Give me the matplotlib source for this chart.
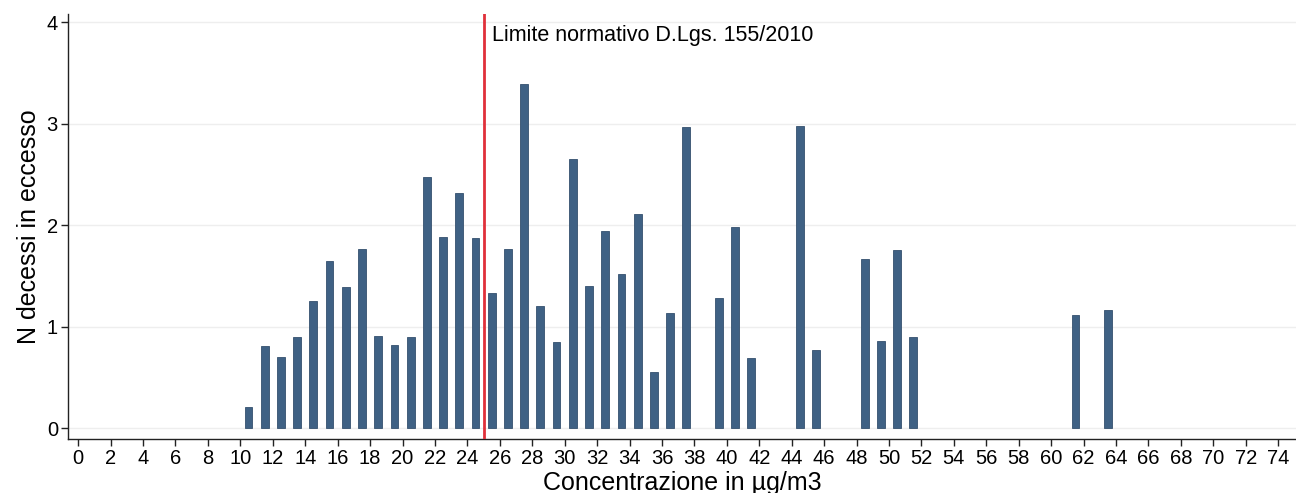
import numpy as np
import matplotlib
matplotlib.use("Agg")
import matplotlib.pyplot as plt

plt.rcParams['font.family'] = ['Liberation Sans', 'DejaVu Sans']

# concentration classes (bar centred at class + 0.5) and excess deaths
conc = [10, 11, 12, 13, 14, 15, 16, 17, 18, 19, 20, 21, 22, 23, 24,
        25, 26, 27, 28, 29, 30, 31, 32, 33, 34, 35, 36, 37, 39, 40, 41,
        44, 45, 48, 49, 50, 51, 61, 63]
deaths = [0.21, 0.81, 0.70, 0.90, 1.25, 1.65, 1.39, 1.77, 0.91, 0.82, 0.90, 2.47, 1.88, 2.32, 1.87,
          1.33, 1.77, 3.39, 1.20, 0.85, 2.65, 1.40, 1.94, 1.52, 2.11, 0.55, 1.14, 2.97, 1.28, 1.98, 0.69,
          2.98, 0.77, 1.67, 0.86, 1.76, 0.90, 1.12, 1.16]
limit_value = 25
limit_label = "Limite normativo D.Lgs. 155/2010"
x_ticks = list(range(0, 75, 2))
y_ticks = [0, 1, 2, 3, 4]

fig = plt.figure(figsize=(12.96, 4.93), dpi=100)
ax = fig.add_axes([0.0522, 0.1095, 0.9478, 0.862])

centres = np.array(conc) + 0.5
ax.bar(centres, deaths, width=0.48, color='#3f6184', edgecolor='#34506e',
       linewidth=0.6, zorder=3)

ax.axvline(limit_value, color='#e0303a', linewidth=2, zorder=4)
ax.text(limit_value + 0.5, 3.87, limit_label, fontsize=15.5, va='center', ha='left')

ax.set_xlim(-0.65, 75.1)
ax.set_ylim(-0.106, 4.08)
ax.set_xticks(x_ticks)
ax.set_yticks(y_ticks)
ax.tick_params(axis='both', labelsize=14.5, length=5, width=1, color='#222222')
ax.tick_params(axis='x', pad=2)
ax.tick_params(axis='y', pad=2)
ax.yaxis.grid(True, color='#eeeeee', linewidth=1)
ax.set_axisbelow(True)

for side in ['top', 'right']:
    ax.spines[side].set_visible(False)
for side in ['left', 'bottom']:
    ax.spines[side].set_color('#222222')
    ax.spines[side].set_linewidth(1)

ax.set_xlabel("Concentrazione in µg/m3", fontsize=18, labelpad=2)
ax.set_ylabel("N decessi in eccesso", fontsize=18, labelpad=4)

fig.savefig("out.png", dpi=100)
